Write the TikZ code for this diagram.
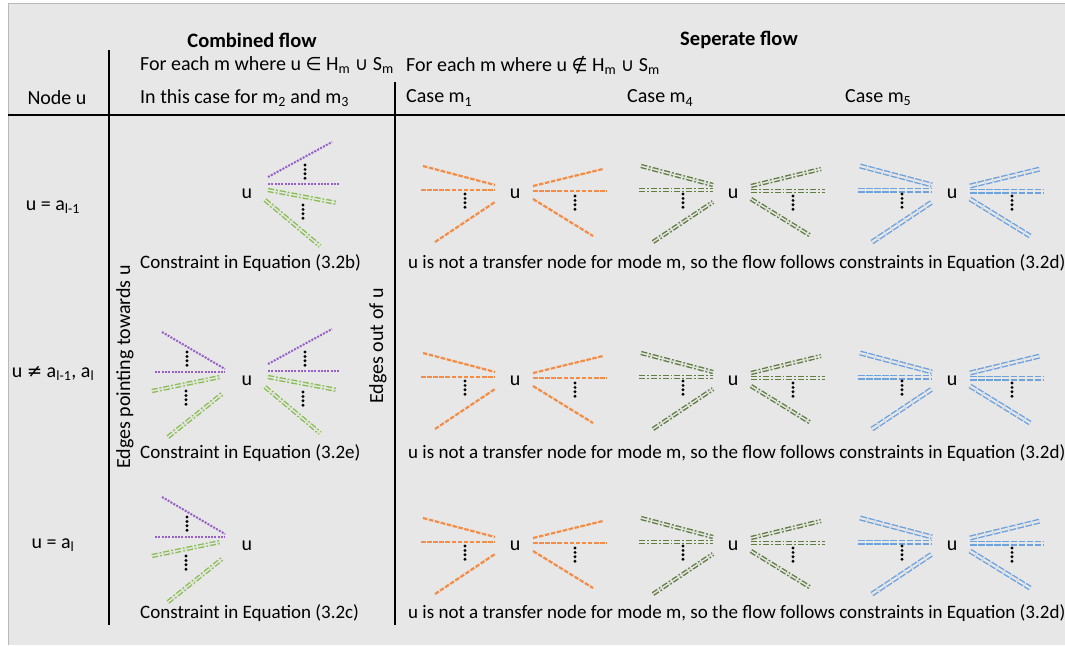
\documentclass[tikz,border=0pt]{standalone}
\usepackage{fontspec}
\setmainfont{Carlito}
\newfontfamily\dejavu[Scale=0.92]{DejaVu Sans}
\usetikzlibrary{positioning}

\definecolor{bgray}{RGB}{231,231,231}
\definecolor{edgepurple}{RGB}{150,95,205}
\definecolor{edgegreen}{RGB}{135,190,80}
\definecolor{edgeorange}{RGB}{245,140,70}
\definecolor{edgeolive}{RGB}{95,125,65}
\definecolor{edgeblue}{RGB}{110,162,222}

\newcommand{\msin}{{\dejavu ∈}}
\newcommand{\msnotin}{{\dejavu ∉}}
\newcommand{\mscup}{{\dejavu ∪}}
\newcommand{\msneq}{{\dejavu ≠}}

\begin{document}
\begin{tikzpicture}[x=1pt, y=-1pt,
  every node/.style={inner sep=0pt, font=\fontsize{20}{24}\selectfont},
  head/.style={font=\fontsize{20.5}{24}\selectfont\bfseries},
  capt/.style={anchor=west, font=\fontsize{19}{22}\selectfont},
  rule/.style={line width=1.4pt},
  purp/.style={draw=edgepurple, line width=2pt, dash pattern=on 2pt off 1.3pt},
  lgreen/.style={draw=edgegreen, line width=1.4pt, double=bgray, double distance=1.5pt,
    dash pattern=on 6pt off 2pt on 1.8pt off 2pt},
  orng/.style={draw=edgeorange, line width=2.2pt, dash pattern=on 4.5pt off 1.6pt},
  olive/.style={draw=edgeolive, line width=1.4pt, double=bgray, double distance=1.5pt,
    dash pattern=on 6pt off 2pt on 1.8pt off 2pt},
  blu/.style={draw=edgeblue, line width=1.4pt, double=bgray, double distance=2.2pt,
    dash pattern=on 6.5pt off 1.6pt},
  pics/vdots/.style={code={
    \foreach \k in {0,1,2,3} \fill[black] (0,4.4*\k) circle[radius=1.6pt];
  }},
  pics/outedges/.style={code={
    \draw[#1] (18,-8) -- (88,-25);
    \draw[#1] (18,-3) -- (92,-3);
    \draw[#1] (18,5) -- (78,42);
    \pic at (60,2) {vdots};
  }},
  pics/inedges/.style={code={
    \draw[#1] (-92,-28) -- (-20,-9);
    \draw[#1] (-94,-4) -- (-20,-4);
    \draw[#1] (-80,48) -- (-20,8);
    \pic at (-50,0) {vdots};
  }},
  pics/combout/.style={code={
    \draw[purp] (21,-17) -- (85,-52);
    \draw[purp] (21,-10) -- (93,-10);
    \pic at (58,-29) {vdots};
    \draw[lgreen] (21,-4) -- (90,9);
    \draw[lgreen] (18,6) -- (73,52);
    \pic at (56,11) {vdots};
  }},
  pics/combin/.style={code={
    \draw[purp] (-85,-49) -- (-22,-12);
    \draw[purp] (-92,-9) -- (-22,-9);
    \pic at (-60,-29) {vdots};
    \draw[lgreen] (-95,10) -- (-27,-4);
    \draw[lgreen] (-79,56) -- (-25,13);
    \pic at (-61,10) {vdots};
  }}]
  \useasboundingbox (0,0) rectangle (1065,645);
  \fill[white] (0,0) rectangle (1065,645);
  \fill[bgray] (8,3) rectangle (1065,645);
  \draw[gray!55] (8,645) -- (8,3) -- (1065,3);

  % table rules
  \draw[rule] (8,115) -- (1065,115);
  \draw[rule] (109,50) -- (109,625);
  \draw[rule] (395,82) -- (395,625);

  % header
  \node[head] (combined) at (252,40) {Combined flow};
  \node[head] (separate) at (739,40) {Seperate flow};
  \node[anchor=west] (hsin) at (140,65)
    {For each m where u \msin{} H\textsubscript{m} \mscup{} S\textsubscript{m}};
  \node[anchor=west] (hsout) at (406,65)
    {For each m where u \msnotin{} H\textsubscript{m} \mscup{} S\textsubscript{m}};
  \node (nodeu) at (57,98) {Node u};
  \node[anchor=west] (thiscase) at (140,98) {In this case for m\textsubscript{2} and m\textsubscript{3}};
  \node[anchor=west] (case1) at (406,98) {Case m\textsubscript{1}};
  \node[anchor=west] (case4) at (627,98) {Case m\textsubscript{4}};
  \node[anchor=west] (case5) at (845,98) {Case m\textsubscript{5}};

  % row labels
  \node (row1) at (53,207) {u = a\textsubscript{l-1}};
  \node (row2) at (53,373) {u \msneq{} a\textsubscript{l-1}, a\textsubscript{l}};
  \node (row3) at (53,545) {u = a\textsubscript{l}};
  \node[rotate=90] (towards) at (125,367) {Edges pointing towards u};
  \node[rotate=90] (outof) at (378,346) {Edges out of u};

  % the node u in every cell
  \foreach \r/\y in {1/194,2/381,3/546} {
    \node (u\r1) at (247,\y) {u};
    \node (u\r2) at (515,\y) {u};
    \node (u\r3) at (733,\y) {u};
    \node (u\r4) at (952,\y) {u};
  }

  % combined flow
  \pic at (u11) {combout};
  \pic at (u21) {combin};
  \pic at (u21) {combout};
  \pic at (u31) {combin};

  % seperate flow
  \foreach \r in {1,2,3} {
    \pic at (u\r2) {inedges=orng};
    \pic at (u\r2) {outedges=orng};
    \pic at (u\r3) {inedges=olive};
    \pic at (u\r3) {outedges=olive};
    \pic at (u\r4) {inedges=blu};
    \pic at (u\r4) {outedges=blu};
  }

  % captions
  \node[capt] (cap1) at (140,263) {Constraint in Equation (3.2b)};
  \node[capt] (cap2) at (140,453) {Constraint in Equation (3.2e)};
  \node[capt] (cap3) at (140,613) {Constraint in Equation (3.2c)};
  \foreach \r/\y in {1/263,2/453,3/613}
    \node[capt] (note\r) at (408,\y)
      {u is not a transfer node for mode m, so the flow follows constraints in Equation (3.2d)};
\end{tikzpicture}
\end{document}
